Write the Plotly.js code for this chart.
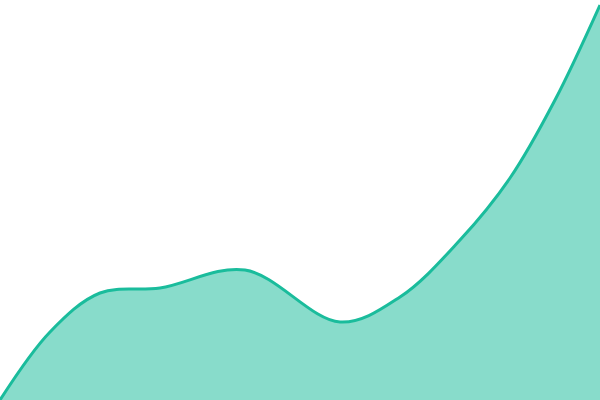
<!DOCTYPE html>
<html>
<head>
<meta charset="utf-8">
<script src="https://cdn.plot.ly/plotly-3.0.1.min.js"></script>
<style>
  html, body { margin: 0; padding: 0; background: #fff; }
  #chart { width: 600px; height: 400px; }
</style>
</head>
<body>
<div id="chart"></div>
<script>
// values
const xPoints = [0, 50, 100, 160, 245, 340, 400, 460, 510, 555, 600];
const yValues = [0, 68, 107, 112, 130, 78, 103, 160, 222, 300, 395];

const trace = {
    x: xPoints,
    y: yValues,
    type: 'scatter',
    mode: 'lines',
    fill: 'tozeroy',
    fillcolor: 'rgba(26, 188, 156, 0.52)',
    line: { color: '#1abc9c', width: 3, shape: 'spline', smoothing: 1 },
    hoverinfo: 'skip'
};

const layout = {
    width: 600,
    height: 400,
    margin: { l: 0, r: 0, t: 0, b: 0 },
    paper_bgcolor: '#fff',
    plot_bgcolor: '#fff',
    showlegend: false,
    xaxis: { range: [0, 600], visible: false, fixedrange: true },
    yaxis: { range: [0, 400], visible: false, fixedrange: true }
};

Plotly.newPlot('chart', [trace], layout, { displayModeBar: false, staticPlot: true });
</script>
</body>
</html>
